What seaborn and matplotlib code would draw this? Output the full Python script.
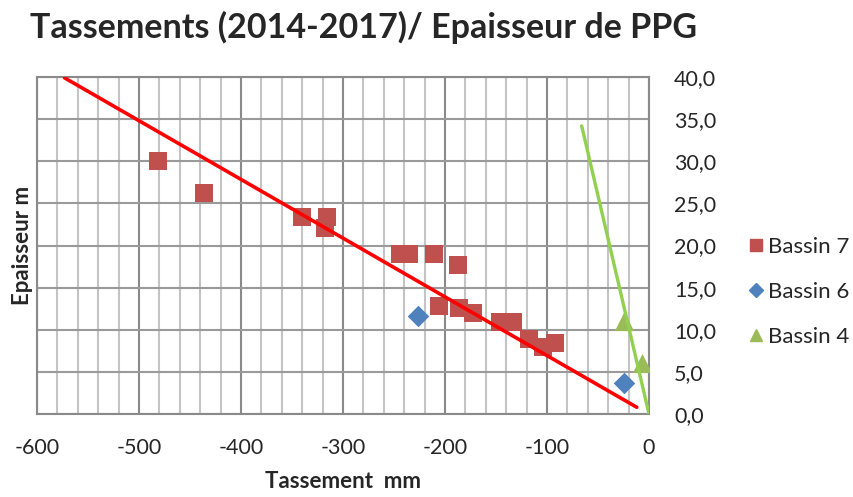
import numpy as np
import pandas as pd
import matplotlib
matplotlib.use("Agg")
import matplotlib.pyplot as plt
from matplotlib.ticker import MultipleLocator, FuncFormatter
from matplotlib.lines import Line2D
import seaborn as sns

# Data
b7_tass = [-481, -436, -340, -316, -318, -244, -235, -211, -187, -206, -186, -173, -146, -133, -118, -104, -92]
b7_epai = [30.0, 26.2, 23.4, 23.4, 22.1, 19.0, 19.0, 19.0, 17.7, 12.8, 12.6, 12.0, 10.9, 10.9, 8.9, 8.0, 8.4]
b6_tass = [-226, -25]
b6_epai = [11.6, 3.7]
b4_tass = [-25, -7]
b4_epai = [11.0, 6.0]

# Trend lines (end points as drawn on the chart)
trend7_x = [-573, -12]
trend7_y = [39.9, 0.8]
trend4_x = [-66, 0]
trend4_y = [34.2, 0.0]

series = ["Bassin 7", "Bassin 6", "Bassin 4"]
colors = {"Bassin 7": "#C0504D", "Bassin 6": "#4F81BD", "Bassin 4": "#9BBB59"}
markers = {"Bassin 7": "s", "Bassin 6": "D", "Bassin 4": "^"}
sizes = {"Bassin 7": 150, "Bassin 6": 120, "Bassin 4": 190}

df = pd.concat([
    pd.DataFrame({"Tassement": b7_tass, "Epaisseur": b7_epai, "Bassin": "Bassin 7"}),
    pd.DataFrame({"Tassement": b6_tass, "Epaisseur": b6_epai, "Bassin": "Bassin 6"}),
    pd.DataFrame({"Tassement": b4_tass, "Epaisseur": b4_epai, "Bassin": "Bassin 4"}),
], ignore_index=True)

sns.set_style("white")
plt.rcParams["font.family"] = ["Lato", "DejaVu Sans"]
plt.rcParams["axes.unicode_minus"] = False

fig = plt.figure(figsize=(8.54, 4.97), dpi=100)
ax = fig.add_axes([37 / 854, 1 - 414 / 497, 612 / 854, 337 / 497])

# grid
ax.set_xlim(-600, 0)
ax.set_ylim(0, 40)
ax.xaxis.set_major_locator(MultipleLocator(100))
ax.xaxis.set_minor_locator(MultipleLocator(20))
ax.yaxis.set_major_locator(MultipleLocator(5))
ax.grid(which="minor", axis="x", color="#c4c4c4", lw=1.5, zorder=0)
ax.grid(which="major", axis="x", color="#8a8a8a", lw=1.5, zorder=0)
ax.grid(which="major", axis="y", color="#9a9a9a", lw=1.5, zorder=0)
ax.set_axisbelow(True)
for s in ax.spines.values():
    s.set_color("#8a8a8a")
    s.set_linewidth(1.5)

# points
for name in series:
    sub = df[df["Bassin"] == name]
    sns.scatterplot(data=sub, x="Tassement", y="Epaisseur", color=colors[name],
                    marker=markers[name], s=sizes[name], linewidth=0,
                    ax=ax, zorder=3, legend=False)

# trend lines
sns.lineplot(x=trend7_x, y=trend7_y, color="#FF0000", lw=2.6, ax=ax,
             estimator=None, sort=False, legend=False, zorder=4)
sns.lineplot(x=trend4_x, y=trend4_y, color="#92D050", lw=2.4, ax=ax,
             estimator=None, sort=False, legend=False, zorder=4)

# ticks
ax.yaxis.tick_right()
ax.yaxis.set_major_formatter(FuncFormatter(lambda v, p: f"{v:.1f}".replace(".", ",")))
ax.tick_params(axis="both", which="both", length=0, labelsize=15.5, colors="#262626")
ax.tick_params(axis="y", pad=18)
ax.tick_params(axis="x", pad=17)

ax.set_xlabel("Tassement  mm", fontsize=16, fontweight="bold", labelpad=10)
ax.set_ylabel("Epaisseur m", fontsize=16, fontweight="bold", labelpad=3)
ax.yaxis.set_label_position("left")

fig.text(30 / 854, 1 - 38 / 497, "Tassements (2014-2017)/ Epaisseur de PPG",
         fontsize=24.5, fontweight="bold", va="baseline", ha="left")

handles = [Line2D([], [], ls="", marker=markers[n], color=colors[n],
                  markersize={"Bassin 7": 9, "Bassin 6": 7, "Bassin 4": 9}[n]) for n in series]
fig.legend(handles, series, loc="upper left", bbox_to_anchor=(747 / 854, 1 - 237 / 497),
           frameon=False, fontsize=16, handletextpad=0.15, labelspacing=1.12,
           handlelength=0.8, borderpad=0, borderaxespad=0, labelcolor="#262626")

fig.savefig("out.png", dpi=100)
